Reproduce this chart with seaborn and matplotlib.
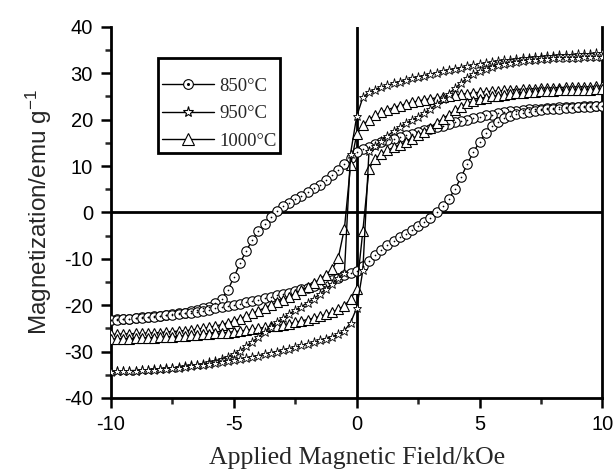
import matplotlib
matplotlib.use('Agg')
import matplotlib.pyplot as plt
import seaborn as sns
from matplotlib.lines import Line2D
from matplotlib.legend_handler import HandlerTuple
from matplotlib.ticker import MultipleLocator

sns.set_theme(style='ticks')
plt.rcParams['font.family'] = ['Liberation Sans', 'DejaVu Sans']
plt.rcParams['mathtext.fontset'] = 'custom'
plt.rcParams['mathtext.rm'] = 'Liberation Sans'
plt.rcParams['mathtext.it'] = 'Liberation Sans:italic'
plt.rcParams['axes.unicode_minus'] = False

# applied field grid, kOe (descending sweep; ascending sweep is the same list reversed)
field_down = [10.0, 9.75, 9.5, 9.25, 9.0, 8.75, 8.5, 8.25, 8.0, 7.75, 7.5, 7.25, 7.0, 6.75, 6.5, 6.25,
              6.0, 5.75, 5.5, 5.25, 5.0, 4.75, 4.5, 4.25, 4.0, 3.75, 3.5, 3.25, 3.0, 2.75, 2.5, 2.25,
              2.0, 1.75, 1.5, 1.25, 1.0, 0.75, 0.5, 0.25, 0.0, -0.25, -0.5, -0.75, -1.0, -1.25, -1.5,
              -1.75, -2.0, -2.25, -2.5, -2.75, -3.0, -3.25, -3.5, -3.75, -4.0, -4.25, -4.5, -4.75,
              -5.0, -5.25, -5.5, -5.75, -6.0, -6.25, -6.5, -6.75, -7.0, -7.25, -7.5, -7.75, -8.0,
              -8.25, -8.5, -8.75, -9.0, -9.25, -9.5, -9.75, -10.0]
field_up = field_down[::-1]

# 850 C (circles)
m850_down = [23.0, 23.0, 22.9, 22.9, 22.8, 22.8, 22.7, 22.7, 22.6, 22.5, 22.4, 22.3, 22.2, 22.1, 21.9, 21.8,
             21.6, 21.4, 21.1, 20.9, 20.6, 20.3, 20.0, 19.7, 19.4, 19.1, 18.7, 18.4, 18.0, 17.7, 17.4, 17.0,
             16.7, 16.3, 15.9, 15.6, 15.2, 14.7, 14.2, 13.6, 13.0, 11.8, 10.5, 9.2, 8.0, 6.9, 6.0,
             5.2, 4.4, 3.6, 2.9, 2.1, 1.3, 0.2, -1.0, -2.4, -4.0, -6.0, -8.3, -11.0,
             -14.0, -16.8, -18.6, -19.6, -20.3, -20.7, -21.0, -21.3, -21.6, -21.8, -22.0, -22.1, -22.3,
             -22.4, -22.5, -22.6, -22.8, -22.9, -22.9, -23.0, -23.1]
m850_up = [-23.2, -23.1, -23.0, -22.9, -22.8, -22.7, -22.6, -22.5, -22.4, -22.2, -22.1, -21.9, -21.8, -21.6,
           -21.4, -21.2, -21.0, -20.7, -20.5, -20.2, -20.0, -19.7, -19.4, -19.1, -18.8, -18.5, -18.2, -17.9,
           -17.6, -17.3, -17.0, -16.6, -16.2, -15.8, -15.4, -15.0, -14.6, -14.1, -13.6, -13.1, -12.6,
           -11.6, -10.4, -9.2, -8.1, -7.1, -6.2, -5.4, -4.6, -3.8, -3.0, -2.1, -1.1, 0.0, 1.3, 2.9, 5.0,
           7.6, 10.4, 13.0, 15.2, 17.2, 18.6, 19.6, 20.3, 20.8, 21.2, 21.5, 21.7, 21.9, 22.1, 22.2, 22.3,
           22.4, 22.5, 22.6, 22.7, 22.8, 22.8, 22.9, 23.0]

# 950 C (stars)
m950_down = [34.3, 34.3, 34.2, 34.2, 34.1, 34.0, 34.0, 33.9, 33.8, 33.7, 33.6, 33.5, 33.4, 33.2, 33.1, 32.9,
             32.8, 32.6, 32.4, 32.2, 32.0, 31.7, 31.5, 31.2, 31.0, 30.7, 30.4, 30.1, 29.8, 29.5, 29.2, 28.9,
             28.5, 28.2, 27.8, 27.4, 27.0, 26.5, 25.9, 24.8, 20.7, 12.7, -13.0, -14.2, -15.4, -16.5, -17.6,
             -18.6, -19.5, -20.3, -21.1, -21.9, -22.8, -23.7, -24.7, -25.8, -26.9, -27.9, -28.9, -29.8,
             -30.5, -31.1, -31.6, -32.0, -32.3, -32.6, -32.8, -33.0, -33.2, -33.4, -33.5, -33.6, -33.7,
             -33.8, -33.9, -34.0, -34.1, -34.1, -34.2, -34.3, -34.3]
m950_up = [-34.4, -34.3, -34.2, -34.2, -34.1, -34.0, -34.0, -33.9, -33.8, -33.7, -33.6, -33.5, -33.3, -33.2,
           -33.0, -32.9, -32.7, -32.5, -32.3, -32.1, -31.9, -31.6, -31.4, -31.1, -30.9, -30.6, -30.3, -30.0,
           -29.7, -29.4, -29.1, -28.7, -28.4, -28.0, -27.6, -27.2, -26.8, -26.3, -25.5, -23.8, -20.6,
           -12.5, 13.2, 14.3, 15.5, 16.5, 17.5, 18.4, 19.2, 19.9, 20.6, 21.4, 22.3, 23.3, 24.4, 25.6, 26.8,
           27.9, 29.0, 29.9, 30.4, 30.9, 31.4, 31.8, 32.1, 32.3, 32.5, 32.7, 32.8, 32.9, 33.0, 33.1, 33.2,
           33.3, 33.3, 33.4, 33.4, 33.5, 33.5, 33.6, 33.6]

# 1000 C (triangles)
m1000_down = [27.2, 27.2, 27.1, 27.1, 27.1, 27.0, 27.0, 26.9, 26.9, 26.8, 26.8, 26.7, 26.6, 26.6, 26.5, 26.4,
              26.3, 26.2, 26.1, 26.0, 25.9, 25.8, 25.6, 25.5, 25.3, 25.1, 24.9, 24.7, 24.5, 24.3, 24.0, 23.7,
              23.4, 23.0, 22.6, 22.1, 21.6, 20.9, 20.0, 18.8, 16.8, 10.2, -3.5, -9.8, -12.3, -13.4, -14.4,
              -15.3, -16.1, -16.8, -17.5, -18.2, -18.8, -19.4, -20.0, -20.6, -21.2, -21.8, -22.4, -22.9,
              -23.4, -23.8, -24.2, -24.5, -24.8, -25.0, -25.2, -25.4, -25.5, -25.6, -25.7, -25.8, -25.9,
              -26.0, -26.0, -26.1, -26.1, -26.2, -26.2, -26.3, -26.3]
m1000_up = [-27.3, -27.3, -27.2, -27.2, -27.1, -27.1, -27.0, -27.0, -26.9, -26.8, -26.8, -26.7, -26.6, -26.5,
            -26.4, -26.3, -26.2, -26.1, -26.0, -25.9, -25.7, -25.6, -25.4, -25.2, -25.0, -24.8, -24.6, -24.4,
            -24.2, -24.0, -23.7, -23.4, -23.1, -22.8, -22.4, -22.0, -21.5, -20.9, -20.1, -18.7, -16.5,
            -4.0, 9.4, 11.6, 12.6, 13.4, 14.0, 14.6, 15.2, 15.9, 16.6, 17.4, 18.3, 19.2, 20.2, 21.1, 22.0,
            22.8, 23.5, 24.0, 24.4, 24.7, 25.0, 25.2, 25.4, 25.6, 25.7, 25.8, 25.9, 26.0, 26.1, 26.1, 26.2,
            26.3, 26.3, 26.4, 26.4, 26.5, 26.5, 26.6, 26.6]

labels = ['850°C', '950°C', '1000°C']

fig = plt.figure(figsize=(6.15, 4.72), dpi=100)
ax = fig.add_axes([0.1805, 0.157, 0.799, 0.786])

ax.axhline(0, color='black', lw=2.0, zorder=1)
ax.axvline(0, color='black', lw=2.0, zorder=1)

common = dict(color='black', linewidth=1.0, markerfacecolor='white', markeredgecolor='black',
              sort=False, estimator=None, ax=ax)

for y, fx in [(m850_down, field_down), (m850_up, field_up)]:
    sns.lineplot(x=fx, y=y, marker='o', markersize=6.8, markeredgewidth=0.8, zorder=3, **common)
    sns.scatterplot(x=fx, y=y, s=1.5, color='black', linewidth=0, zorder=3.1, ax=ax)

for y, fx in [(m1000_down, field_down), (m1000_up, field_up)]:
    sns.lineplot(x=fx, y=y, marker='^', markersize=7.5, markeredgewidth=0.8, zorder=4, **common)

for y, fx in [(m950_down, field_down), (m950_up, field_up)]:
    sns.lineplot(x=fx, y=y, marker='*', markersize=6.8, markeredgewidth=0.6, zorder=5, **common)

ax.set_xlim(-10, 10)
ax.set_ylim(-40, 40)
ax.xaxis.set_major_locator(MultipleLocator(5))
ax.xaxis.set_minor_locator(MultipleLocator(2.5))
ax.yaxis.set_major_locator(MultipleLocator(10))
ax.yaxis.set_minor_locator(MultipleLocator(5))
ax.tick_params(which='major', direction='out', length=7, width=1.8, labelsize=14.5, colors='black')
ax.tick_params(which='minor', direction='out', length=4.3, width=1.8)
ax.tick_params(axis='x', which='major', pad=5.5)
ax.tick_params(axis='y', which='major', pad=6)

for side in ['left', 'bottom', 'right']:
    ax.spines[side].set_linewidth(2.0)
    ax.spines[side].set_color('black')
ax.spines['top'].set_visible(False)

ax.set_ylabel('Magnetization/emu g$^{-1}$', fontsize=17.5, labelpad=7)
ax.set_xlabel('Applied Magnetic Field/kOe', fontsize=18.5, family=['Liberation Serif', 'DejaVu Serif'],
              labelpad=9)

# legend with the open markers
h850 = (Line2D([], [], color='black', lw=1.0, marker='o', markersize=7, markerfacecolor='white',
               markeredgecolor='black', markeredgewidth=0.8),
        Line2D([], [], color='black', lw=0, marker='o', markersize=1.2))
h950 = Line2D([], [], color='black', lw=1.0, marker='*', markersize=8, markerfacecolor='white',
              markeredgecolor='black', markeredgewidth=0.8)
h1000 = Line2D([], [], color='black', lw=1.0, marker='^', markersize=9, markerfacecolor='white',
               markeredgecolor='black', markeredgewidth=0.8)
leg = ax.legend([h850, h950, h1000], labels, handler_map={tuple: HandlerTuple(ndivide=1)},
                loc='upper left', bbox_to_anchor=(0.096, 0.915), frameon=True, fancybox=False,
                edgecolor='black', framealpha=1, handlelength=2.8, handletextpad=0.25,
                labelspacing=0.55, borderpad=0.2, borderaxespad=0,
                title=' ', title_fontsize=4,
                prop={'family': ['Liberation Serif', 'DejaVu Serif'], 'size': 13.5})
leg.get_frame().set_linewidth(2.0)

fig.savefig('out.png', dpi=100)
